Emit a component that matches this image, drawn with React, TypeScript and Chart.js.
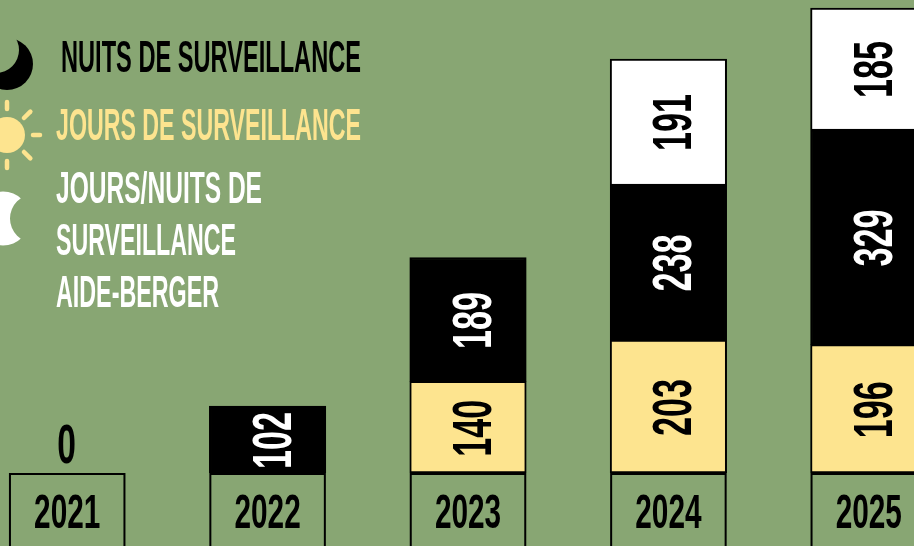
import React, { useEffect, useRef } from "react";
import { Chart, registerables } from "chart.js";

Chart.register(...registerables);

const years = ["2021", "2022", "2023", "2024", "2025"];
const joursSurveillance = [0, 0, 140, 203, 196];
const nuitsSurveillance = [0, 102, 189, 238, 329];
const aideBerger = [0, 0, 0, 191, 185];

const legendLines = [
  { text: "NUITS DE SURVEILLANCE", color: "#000000", x: 61, base: 72, w: 300 },
  { text: "JOURS DE SURVEILLANCE", color: "#FDE48F", x: 56, base: 140, w: 305 },
  { text: "JOURS/NUITS DE", color: "#FFFFFF", x: 56, base: 203, w: 206 },
  { text: "SURVEILLANCE", color: "#FFFFFF", x: 56, base: 255, w: 180 },
  { text: "AIDE-BERGER", color: "#FFFFFF", x: 56, base: 307, w: 163 },
];

const GREEN = "#88A673";
const YELLOW = "#FDE48F";
const FONT = '"Liberation Sans", sans-serif';
const PAGE_W = 914;
const PAGE_H = 546;
const OFFSET = 33;
const CANVAS_W = 1002;

function moon(ctx: CanvasRenderingContext2D, color: string, ox: number, oy: number, or: number, ix: number, iy: number, ir: number) {
  ctx.save();
  ctx.beginPath();
  ctx.rect(-50, 0, 200, 400);
  ctx.arc(ix, iy, ir, 0, Math.PI * 2);
  ctx.clip("evenodd");
  ctx.fillStyle = color;
  ctx.beginPath();
  ctx.arc(ox, oy, or, 0, Math.PI * 2);
  ctx.fill();
  ctx.restore();
}

function sun(ctx: CanvasRenderingContext2D) {
  const cx = 7;
  const cy = 135;
  ctx.save();
  ctx.fillStyle = YELLOW;
  ctx.strokeStyle = YELLOW;
  ctx.lineWidth = 4.5;
  ctx.lineCap = "round";
  ctx.beginPath();
  ctx.arc(cx, cy, 18, 0, Math.PI * 2);
  ctx.fill();
  [0, 45, 90, 135, 180, 225, 270, 315].forEach((deg) => {
    const a = (deg * Math.PI) / 180;
    const r1 = deg % 90 === 0 ? 26 : 24;
    const r2 = 33;
    ctx.beginPath();
    ctx.moveTo(cx + Math.cos(a) * r1, cy + Math.sin(a) * r1);
    ctx.lineTo(cx + Math.cos(a) * r2, cy + Math.sin(a) * r2);
    ctx.stroke();
  });
  ctx.restore();
}

const overlay = {
  id: "overlay",
  afterDatasetsDraw(chart: any) {
    const ctx: CanvasRenderingContext2D = chart.ctx;
    const xScale = chart.scales.x;
    const base = chart.chartArea.bottom;
    const barW = 114.5;

    // year boxes and labels
    ctx.save();
    ctx.strokeStyle = "#000";
    ctx.lineWidth = 2;
    ctx.fillStyle = "#000";
    ctx.textAlign = "center";
    ctx.textBaseline = "alphabetic";
    ctx.font = `bold 48px ${FONT}`;
    years.forEach((label, i) => {
      const cx = xScale.getPixelForValue(i);
      ctx.beginPath();
      ctx.moveTo(cx - barW / 2, PAGE_H + 5);
      ctx.lineTo(cx - barW / 2, base + 1);
      ctx.lineTo(cx + barW / 2, base + 1);
      ctx.lineTo(cx + barW / 2, PAGE_H + 5);
      ctx.stroke();
      ctx.save();
      ctx.translate(cx, 528);
      ctx.scale(0.62, 1);
      ctx.fillText(label, 0, 0);
      ctx.restore();
    });
    ctx.restore();

    // value labels
    const labelColors = ["#000", "#FFF", "#000"];
    chart.data.datasets.forEach((ds: any, d: number) => {
      const meta = chart.getDatasetMeta(d);
      meta.data.forEach((bar: any, i: number) => {
        const value = ds.data[i];
        if (!value) return;
        ctx.save();
        ctx.translate(bar.x + 3, (bar.y + bar.base) / 2 + 1);
        ctx.rotate(-Math.PI / 2);
        ctx.scale(0.61, 1);
        ctx.font = `bold 56px ${FONT}`;
        ctx.textAlign = "center";
        ctx.textBaseline = "alphabetic";
        ctx.fillStyle = labelColors[d];
        ctx.fillText(String(value), 0, 20);
        ctx.restore();
      });
    });

    // zero total above the empty year
    years.forEach((_, i) => {
      const total = joursSurveillance[i] + nuitsSurveillance[i] + aideBerger[i];
      if (total !== 0) return;
      ctx.save();
      ctx.translate(xScale.getPixelForValue(i) - 0.5, 463);
      ctx.scale(0.6, 1);
      ctx.font = `bold 56px ${FONT}`;
      ctx.textAlign = "center";
      ctx.fillStyle = "#000";
      ctx.fillText(String(total), 0, 0);
      ctx.restore();
    });

    // legend
    ctx.save();
    ctx.translate(OFFSET, 0);
    moon(ctx, "#000", 7, 64, 26, -4, 50, 23);
    sun(ctx);
    moon(ctx, "#FFF", 3, 218.5, 27, 34.3, 218.5, 24.3);
    ctx.font = `bold 45px ${FONT}`;
    ctx.textAlign = "left";
    legendLines.forEach((l) => {
      const measured = ctx.measureText(l.text).width;
      ctx.save();
      ctx.translate(l.x, l.base);
      ctx.scale(l.w / measured, 1);
      ctx.fillStyle = l.color;
      ctx.fillText(l.text, 0, 0);
      ctx.restore();
    });
    ctx.restore();
  },
};

export default function App() {
  const ref = useRef<HTMLCanvasElement | null>(null);
  useEffect(() => {
    if (!ref.current) return;
    const chart = new Chart(ref.current, {
      type: "bar",
      data: {
        labels: years,
        datasets: [
          { label: "Jours de surveillance", data: joursSurveillance, backgroundColor: YELLOW, borderSkipped: false },
          { label: "Nuits de surveillance", data: nuitsSurveillance, backgroundColor: "#000000", borderSkipped: false },
          { label: "Jours/nuits de surveillance aide-berger", data: aideBerger, backgroundColor: "#FFFFFF", borderSkipped: "bottom" },
        ].map((d) => ({
          ...d,
          borderColor: "#000000",
          borderWidth: 2,
          barThickness: 116.5,
        })),
      },
      options: {
        responsive: false,
        animation: false,
        layout: { padding: { left: 0, right: 0, top: 0, bottom: 73 } },
        plugins: { legend: { display: false }, title: { display: false }, tooltip: { enabled: false } },
        scales: {
          x: { stacked: true, display: false },
          y: { stacked: true, display: false, min: 0, max: 722.2 },
        },
      },
      plugins: [overlay],
    } as any);
    return () => chart.destroy();
  }, []);
  return (
    <div style={{ position: "fixed", left: 0, top: 0, width: PAGE_W, height: PAGE_H, overflow: "hidden", background: GREEN }}>
      <canvas
        ref={ref}
        width={CANVAS_W}
        height={PAGE_H}
        style={{ position: "absolute", left: -OFFSET, top: 0, display: "block" }}
      />
    </div>
  );
}
